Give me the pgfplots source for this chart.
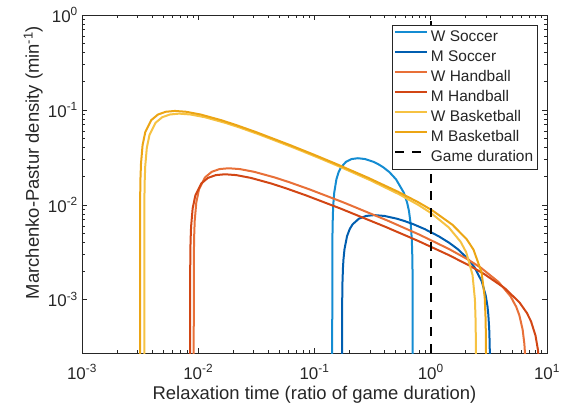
\documentclass[border=0pt]{standalone}
\usepackage{fontspec}
\setmainfont{Liberation Sans}
\usepackage{pgfplots}
\pgfplotsset{compat=1.18}
\definecolor{axgray}{RGB}{38,38,38}
\definecolor{wsoc}{RGB}{20,140,210}
\definecolor{msoc}{RGB}{0,94,176}
\definecolor{whand}{RGB}{232,112,56}
\definecolor{mhand}{RGB}{210,70,20}
\definecolor{wbask}{RGB}{246,194,66}
\definecolor{mbask}{RGB}{236,165,20}
\begin{document}
\begin{tikzpicture}
\useasboundingbox (-82bp,-57bp) rectangle (484bp,353bp);
\begin{axis}[
  scale only axis, width=465bp, height=338bp,
  xmode=log, ymode=log,
  xmin=1e-3, xmax=10, ymin=2.75e-4, ymax=1,
  xtick={1e-3,1e-2,1e-1,1,10},
  xticklabels={10\textsuperscript{-3},10\textsuperscript{-2},10\textsuperscript{-1},10\textsuperscript{0},10\textsuperscript{1}},
  ytick={1e-3,1e-2,1e-1,1},
  yticklabels={10\textsuperscript{-3},10\textsuperscript{-2},10\textsuperscript{-1},10\textsuperscript{0}},
  tick align=inside, major tick length=5.5bp, minor tick length=3bp,
  axis line style={draw=axgray, line width=0.8bp},
  every tick/.style={draw=axgray, line width=0.7bp},
  ticklabel style={font=\fontsize{17}{20}\selectfont, text=axgray},
  xticklabel style={anchor=base, yshift=-26bp},
  yticklabel style={anchor=east, inner sep=0pt, xshift=-4bp},
  xlabel={Relaxation time (ratio of game duration)},
  ylabel={Marchenko-Pastur density (min\textsuperscript{-1})},
  label style={font=\fontsize{18.5}{22}\selectfont, text=axgray},
  xlabel style={at={(axis description cs:0.5,-0.1361)}, anchor=base},
  ylabel style={at={(axis description cs:-0.0925,0.5636)}, anchor=base},
  legend style={at={(axis description cs:0.9806,0.9704)}, anchor=north east,
    draw=axgray, line width=0.7bp, fill=white, text=axgray,
    font=\fontsize{15.5}{18}\selectfont, inner xsep=2bp, inner ysep=2bp,
    nodes={inner sep=2.5bp, text height=11.5bp, text depth=3.5bp},
    cells={anchor=west}},
  legend image code/.code={\draw[line width=2bp,#1,line width=2bp] (0bp,5bp) -- (32bp,5bp);},
  every axis plot/.append style={line width=2bp, line join=round},
]
\addplot[wsoc] coordinates {
(0.7,1e-6) (0.69996,1.96e-4) (0.69990,3.396e-4) (0.69971,6.2e-4) (0.69917,1.0738e-3)
(0.69725,1.96e-3) (0.69453,2.77e-3) (0.69183,3.391e-3) (0.68650,4.373e-3) (0.67353,6.169e-3)
(0.64900,8.68e-3) (0.62620,0.010577) (0.58508,0.013512) (0.50258,0.0186) (0.44047,0.022138)
(0.39202,0.0248) (0.35317,0.026847) (0.32133,0.028412) (0.27225,0.030374) (0.23617,0.031)
(0.20853,0.030374) (0.18669,0.028412) (0.16898,0.0248) (0.16133,0.022138) (0.15435,0.0186)
(0.14794,0.013512) (0.14553,0.010577) (0.14435,8.68e-3) (0.14319,6.169e-3) (0.14261,4.373e-3)
(0.14216,1.96e-3) (0.14205,1e-6)};
\addlegendentry{W Soccer}
\addplot[msoc] coordinates {
(3.2404,1e-6) (3.22324,2.702e-4) (3.21187,3.487e-4) (3.18380,4.931e-4) (3.12913,6.970e-4)
(3.07631,8.532e-4) (2.97582,1.1003e-3) (2.75115,1.5522e-3) (2.39024,2.184e-3) (2.11305,2.6612e-3)
(1.71520,3.3999e-3) (1.44344,3.9803e-3) (1.16626,4.68e-3) (0.88350,5.5703e-3) (0.71110,6.24e-3)
(0.59499,6.755e-3) (0.51148,7.1489e-3) (0.39937,7.6424e-3) (0.32757,7.8e-3) (0.27765,7.6424e-3)
(0.24094,7.1489e-3) (0.21280,6.24e-3) (0.20106,5.5703e-3) (0.19054,4.68e-3) (0.18108,3.3999e-3)
(0.17755,2.6612e-3) (0.17583,2.184e-3) (0.17415,1.5522e-3) (0.17332,1.1003e-3) (0.17267,4.931e-4)
(0.17250,1e-6)};
\addlegendentry{M Soccer}
\addplot[whand] coordinates {
(6.6181,1e-6) (6.4777,2.662e-4) (6.38723,3.4365e-4) (6.17189,4.86e-4) (5.78202,6.873e-4)
(5.43848,8.418e-4) (4.86086,1.0865e-3) (3.84098,1.5362e-3) (2.70563,2.1713e-3) (2.08834,2.6579e-3)
(1.43400,3.428e-3) (0.80412,4.8357e-3) (0.42806,6.804e-3) (0.17814,0.010592) (0.090285,0.01458)
(0.060465,0.017354) (0.045452,0.01944) (0.030371,0.022271) (0.022805,0.023809) (0.018256,0.0243)
(0.015220,0.023809) (0.013050,0.022271) (0.011421,0.01944) (0.010155,0.01458) (0.0096208,0.010592)
(0.0093267,6.804e-3) (0.0092326,4.8357e-3) (0.0091863,3.428e-3) (0.0091496,1.5362e-3) (0.0091404,1e-6)};
\addlegendentry{W Handball}
\addplot[mhand] coordinates {
(8.7873,1e-6) (8.52334,2.300e-4) (8.35600,2.97e-4) (7.96502,4.20e-4) (7.28343,5.94e-4)
(6.70929,7.274e-4) (5.79559,9.389e-4) (4.32358,1.3276e-3) (2.86714,1.8764e-3) (2.14468,2.297e-3)
(1.42602,2.9624e-3) (0.77598,4.179e-3) (0.40591,5.88e-3) (0.16699,9.1535e-3) (0.084297,0.0126)
(0.056378,0.014997) (0.042351,0.0168) (0.028280,0.019247) (0.021227,0.020576) (0.016990,0.021)
(0.014163,0.020576) (0.012142,0.019247) (0.010626,0.0168) (0.0094469,0.0126) (0.0089502,9.1535e-3)
(0.0086765,5.88e-3) (0.0085890,4.179e-3) (0.0085458,2.9624e-3) (0.0085116,1.3276e-3) (0.0085031,1e-6)};
\addlegendentry{M Handball}
\addplot[wbask] coordinates {
(2.451,1e-6) (2.4492,1.83e-4) (2.4457,3.166e-4) (2.4336,5.78e-4) (2.3996,1.001e-3)
(2.2878,1.828e-3) (2.0189,3.166e-3) (1.8066,4.087e-3) (1.4304,5.778e-3) (1.0099,8.167e-3)
(0.7805,9.997e-3) (0.5366,0.012894) (0.3013,0.018189) (0.16052,0.025592) (0.10940,0.031184)
(0.066834,0.039839) (0.033879,0.05484) (0.022690,0.065272) (0.017057,0.07312) (0.011398,0.08377)
(0.0085584,0.089554) (0.0068515,0.0914) (0.0057123,0.089554) (0.0048978,0.08377) (0.0042867,0.07312)
(0.0038111,0.05484) (0.0036109,0.039839) (0.0035005,0.025592) (0.0034652,0.018189) (0.0034478,0.012894)
(0.0034340,5.778e-3) (0.0034306,1e-6)};
\addlegendentry{W Basketball}
\addplot[mbask] coordinates {
(2.994,1e-6) (2.99117,1.952e-4) (2.98552,3.381e-4) (2.96589,6.173e-4) (2.91121,1.0691e-3)
(2.73473,1.952e-3) (2.33100,3.381e-3) (2.03114,4.364e-3) (1.53688,6.170e-3) (1.03376,8.721e-3)
(0.77881,0.010675) (0.52155,0.013768) (0.28566,0.019422) (0.14998,0.027328) (0.10169,0.033299)
(0.061853,0.042542) (0.031249,0.05856) (0.020905,0.0697) (0.015706,0.07808) (0.010489,0.089452)
(0.0078739,0.095628) (0.0063024,0.0976) (0.0052539,0.095628) (0.0045044,0.089452) (0.0039421,0.07808)
(0.0035046,0.05856) (0.0033204,0.042542) (0.0032188,0.027328) (0.0031864,0.019422) (0.0031704,0.013768)
(0.0031577,6.170e-3) (0.0031545,1e-6)};
\addlegendentry{M Basketball}
\addplot[black, dash pattern=on 9bp off 8bp] coordinates {(1,2.75e-4) (1,1)};
\addlegendentry{Game duration}
\end{axis}
\end{tikzpicture}
\end{document}
